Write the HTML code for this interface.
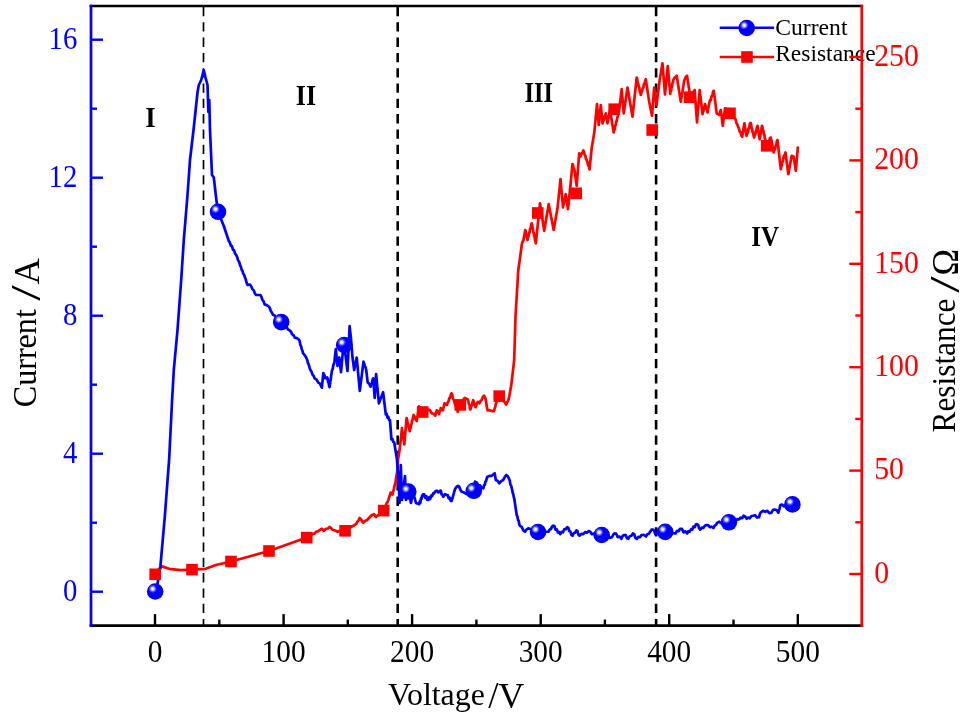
<!DOCTYPE html>
<html lang="en"><head><meta charset="utf-8"><title>Current and Resistance vs Voltage</title>
<style>html,body{margin:0;padding:0;background:#fff;}body{width:969px;height:720px;overflow:hidden;font-family:"Liberation Serif",serif;}svg{display:block;}</style>
</head><body>
<svg width="969" height="720" viewBox="0 0 969 720" font-family="'Liberation Serif', serif">
<defs><radialGradient id="hl" cx="0.5" cy="0.5" r="0.5"><stop offset="0" stop-color="#fff" stop-opacity="1"/><stop offset="0.3" stop-color="#fff" stop-opacity="0.9"/><stop offset="0.65" stop-color="#fff" stop-opacity="0.35"/><stop offset="1" stop-color="#fff" stop-opacity="0"/></radialGradient></defs>
<rect width="969" height="720" fill="#fff"/>
<line x1="203.5" y1="7.0" x2="203.5" y2="625.6" stroke="#000" stroke-width="1.7" stroke-dasharray="9.3 6"/>
<line x1="397.7" y1="7.0" x2="397.7" y2="625.6" stroke="#000" stroke-width="2.6" stroke-dasharray="9.3 6"/>
<line x1="656.1" y1="7.0" x2="656.1" y2="625.6" stroke="#000" stroke-width="2.6" stroke-dasharray="9.3 6"/>
<path d="M155.2,574.3 L158.0,570.0 L161.9,566.4 L169.2,568.8 L180.9,570.2 L192.0,569.6 L205.7,568.8 L215.9,565.0 L231.0,561.5 L269.0,551.0 L306.7,537.6 L308.6,536.2 L310.5,535.9 L312.4,533.9 L314.4,533.7 L316.3,531.6 L318.2,531.2 L320.1,529.7 L322.0,528.8 L323.9,530.8 L325.9,528.9 L327.8,528.5 L329.8,526.9 L332.7,529.8 L335.1,530.5 L337.6,531.8 L340.1,530.8 L342.6,531.6 L345.1,530.8 L347.2,529.0 L349.2,528.8 L351.2,526.6 L353.3,525.9 L356.3,523.9 L357.4,521.6 L358.5,520.5 L359.6,518.0 L361.4,519.8 L363.1,522.9 L365.1,520.8 L367.0,520.2 L369.0,518.0 L371.4,515.5 L373.9,514.1 L375.9,517.1 L377.8,515.2 L379.8,514.4 L381.8,511.7 L383.7,510.6 L384.7,508.0 L385.7,506.3 L386.6,503.2 L387.6,502.1 L388.6,499.4 L389.3,496.5 L389.9,495.4 L390.6,492.5 L392.5,494.5 L393.1,491.4 L393.7,490.1 L394.3,486.5 L394.9,484.9 L395.5,481.8 L397.5,470.0 L398.1,459.0 L399.6,449.8 L402.0,428.1 L404.3,444.4 L406.6,418.0 L407.1,419.7 L407.6,423.2 L408.1,423.9 L408.7,427.1 L409.2,428.7 L409.7,431.2 L410.2,428.8 L410.7,427.9 L411.2,424.6 L411.6,423.7 L412.1,420.7 L412.6,419.6 L413.1,416.6 L413.6,415.0 L414.6,416.6 L415.7,419.6 L416.7,421.1 L419.0,406.4 L420.3,407.8 L421.6,411.1 L422.9,412.3 L424.7,410.7 L426.5,411.2 L428.3,409.5 L430.0,410.3 L431.8,413.4 L433.5,413.5 L435.2,415.7 L436.0,412.7 L436.8,410.3 L438.0,411.5 L439.1,414.2 L439.6,411.4 L440.2,410.8 L440.7,408.0 L443.0,410.3 L443.5,407.4 L444.0,406.3 L444.5,403.3 L446.9,404.9 L447.7,402.6 L448.4,401.7 L449.2,398.5 L450.0,397.6 L450.7,395.0 L451.5,393.3 L452.3,394.9 L453.0,398.7 L453.8,400.2 L454.4,401.9 L455.1,404.8 L455.8,405.6 L456.4,408.3 L457.1,409.5 L457.7,411.9 L458.6,408.9 L459.4,408.0 L460.3,404.9 L461.4,402.9 L462.5,402.0 L463.6,399.4 L464.7,397.9 L467.8,399.5 L468.3,400.9 L468.8,403.9 L469.4,404.8 L469.9,408.3 L470.4,409.5 L471.1,406.7 L471.8,405.6 L472.5,402.1 L473.2,400.2 L474.0,402.3 L474.7,405.4 L475.5,407.2 L476.6,404.2 L477.8,401.8 L479.4,403.3 L480.5,401.0 L481.7,399.9 L482.9,396.9 L484.0,395.6 L485.6,398.7 L487.4,410.3 L489.6,410.2 L491.9,411.1 L494.1,411.1 L494.7,408.2 L495.2,407.3 L495.8,403.9 L496.4,402.6 L497.3,399.7 L498.3,398.7 L499.2,396.1 L500.6,397.2 L502.0,399.9 L503.4,401.0 L504.8,402.2 L506.1,404.6 L507.0,402.1 L507.9,401.2 L508.8,398.7 L511.1,386.3 L512.6,373.9 L514.2,360.0 L515.5,316.7 L518.3,270.0 L520.0,258.3 L521.7,245.0 L522.5,241.9 L523.3,240.8 L525.3,230.0 L525.7,230.8 L526.2,234.9 L526.6,235.2 L527.1,239.0 L527.5,240.0 L528.0,237.3 L528.5,236.5 L529.1,232.5 L529.6,232.5 L530.1,228.7 L530.7,227.9 L531.2,224.6 L531.7,223.3 L532.1,224.4 L532.5,227.7 L532.9,228.3 L533.3,232.3 L533.8,232.9 L534.2,236.3 L534.6,236.5 L535.0,240.3 L535.4,240.6 L535.8,243.3 L540.0,203.3 L544.2,230.8 L548.7,204.2 L553.7,230.0 L557.5,208.3 L560.5,179.2 L563.0,207.5 L563.5,204.3 L563.9,204.1 L564.4,200.4 L564.9,199.1 L565.3,195.4 L565.8,194.2 L568.0,209.2 L570.0,190.0 L572.5,164.0 L573.0,164.7 L573.6,168.5 L574.2,169.0 L574.7,171.7 L576.7,185.8 L579.2,153.3 L580.3,156.7 L581.3,153.7 L582.3,153.2 L583.3,150.5 L584.0,151.7 L584.7,155.0 L585.3,155.5 L586.0,159.0 L586.7,160.0 L587.4,161.7 L588.1,165.5 L588.8,166.0 L589.5,169.5 L591.7,148.0 L594.2,133.3 L597.0,104.2 L598.7,125.0 L600.8,105.0 L602.5,123.3 L603.2,120.9 L603.8,120.2 L604.5,116.2 L605.1,116.0 L605.8,113.3 L607.5,123.3 L610.0,110.0 L613.7,132.5 L614.2,129.9 L614.7,129.5 L615.2,125.8 L615.7,124.9 L616.2,121.5 L616.7,121.3 L617.2,117.7 L617.7,116.8 L618.2,113.4 L618.7,113.2 L619.2,110.0 L621.7,89.2 L623.7,113.3 L627.5,87.5 L632.5,116.7 L636.7,77.5 L637.2,78.9 L637.7,83.0 L638.2,83.5 L638.8,86.9 L639.3,87.5 L639.8,91.8 L640.3,92.0 L640.8,95.0 L641.4,92.4 L642.0,91.6 L642.7,88.2 L643.3,87.7 L643.9,84.0 L644.5,84.3 L645.2,80.6 L645.8,79.2 L649.2,101.7 L652.0,115.8 L654.2,87.5 L656.5,105.0 L659.6,80.8 L662.5,63.3 L665.0,94.5 L667.8,66.0 L670.2,94.0 L670.6,91.4 L671.1,91.1 L671.5,87.0 L672.0,87.1 L672.4,83.3 L672.9,82.5 L673.3,80.0 L675.0,77.2 L676.7,75.8 L680.8,101.7 L684.2,80.8 L685.6,77.2 L687.0,75.8 L690.0,95.0 L691.6,92.7 L693.1,92.4 L694.7,90.0 L697.0,122.5 L699.7,90.0 L702.5,114.2 L703.0,111.4 L703.5,111.0 L704.0,107.4 L704.5,107.4 L705.0,104.2 L705.6,105.7 L706.2,108.7 L706.9,109.2 L707.5,112.5 L709.2,103.3 L710.0,100.0 L710.7,100.4 L711.5,96.3 L712.3,96.2 L713.0,91.6 L713.8,90.8 L716.7,113.3 L719.2,115.0 L720.0,111.9 L720.8,110.0 L722.8,125.8 L725.0,108.3 L726.7,108.9 L728.3,112.8 L730.0,113.3 L731.7,114.0 L733.3,117.6 L735.0,118.5 L735.8,119.9 L736.5,123.3 L737.2,124.1 L738.0,126.7 L738.8,128.2 L739.7,131.6 L740.5,132.0 L741.4,135.8 L742.2,136.7 L744.4,123.3 L746.5,135.8 L747.2,133.2 L747.8,132.7 L748.5,128.3 L749.2,128.4 L749.8,123.8 L750.5,122.8 L751.0,123.7 L751.6,127.9 L752.1,128.7 L752.6,132.3 L753.1,132.8 L753.7,136.1 L754.2,137.5 L754.8,134.6 L755.3,134.5 L755.9,130.9 L756.4,130.9 L757.0,126.8 L757.5,125.8 L759.7,139.2 L762.0,125.8 L762.5,127.1 L762.9,130.4 L763.4,130.6 L763.9,134.6 L764.4,134.7 L764.8,138.5 L765.3,139.2 L765.8,142.7 L766.2,142.7 L766.7,145.8 L767.7,143.2 L768.8,142.8 L769.8,138.3 L770.8,137.5 L773.7,152.5 L774.3,149.3 L775.0,149.5 L775.6,145.9 L776.2,145.1 L776.9,140.9 L777.5,140.0 L780.8,169.2 L781.3,166.6 L781.8,165.5 L782.3,162.0 L782.8,161.3 L783.3,158.3 L784.0,155.6 L784.8,155.3 L785.5,152.5 L788.3,174.2 L791.7,155.8 L793.7,156.7 L795.8,170.8 L797.8,147.5" fill="none" stroke="#f00" stroke-width="2.7" stroke-linejoin="round" stroke-linecap="round"/>
<path d="M155.2,591.5 L157.5,584.0 L160.4,566.4 L164.8,516.8 L169.2,458.4 L172.1,400.0 L173.8,370.0 L177.5,330.0 L181.2,280.0 L183.8,240.0 L187.5,195.0 L190.0,160.0 L193.8,127.5 L197.5,92.5 L198.8,85.0 L201.2,80.0 L203.8,70.2 L205.5,77.5 L207.5,85.0 L208.0,100.0 L208.4,112.0 L209.3,100.0 L210.0,130.0 L212.0,175.0 L213.8,177.5 L215.5,192.5 L217.0,205.0 L218.0,211.8 L223.8,226.0 L228.8,241.0 L229.8,242.4 L230.9,245.7 L232.0,246.3 L233.0,249.8 L234.1,250.3 L235.2,253.8 L236.2,255.0 L237.2,257.2 L238.1,260.5 L239.1,261.7 L240.0,265.0 L240.8,266.5 L241.7,269.9 L242.5,270.9 L243.3,273.8 L244.2,275.0 L245.0,277.5 L245.8,279.5 L246.7,283.1 L247.5,285.0 L250.0,284.5 L251.2,286.4 L252.5,289.1 L253.8,290.4 L255.0,293.7 L256.2,295.0 L260.4,295.0 L261.4,296.7 L262.5,300.0 L263.6,301.4 L264.6,304.4 L266.7,305.1 L268.8,306.5 L269.8,308.0 L270.8,311.0 L271.9,312.5 L272.9,314.8 L274.6,315.5 L276.2,318.1 L277.9,318.8 L279.6,321.4 L281.2,322.1 L282.9,323.0 L284.6,325.8 L286.3,326.3 L287.9,329.3 L289.6,330.4 L290.9,331.6 L292.2,334.4 L293.5,335.1 L294.8,337.7 L296.9,338.1 L299.0,339.8 L299.7,341.3 L300.4,345.0 L301.1,346.1 L301.7,349.2 L302.4,350.7 L303.1,353.3 L304.7,355.1 L306.2,357.5 L307.1,359.7 L307.9,362.9 L308.7,364.4 L309.6,367.7 L310.4,370.0 L311.4,371.5 L312.5,374.6 L313.6,375.8 L314.6,378.3 L316.3,379.3 L318.1,382.3 L319.8,383.5 L321.9,387.7 L323.3,373.1 L324.4,375.2 L325.4,378.3 L327.1,377.3 L327.6,378.6 L328.1,382.0 L328.6,382.8 L329.1,386.1 L329.6,387.1 L331.7,372.1 L332.2,369.7 L332.8,368.8 L333.3,365.0 L333.9,364.1 L334.4,361.7 L335.8,349.2 L337.5,365.8 L337.9,362.9 L338.4,362.2 L338.8,358.9 L339.2,357.5 L341.0,372.1 L342.7,353.3 L344.2,345.0 L347.5,371.0 L349.6,326.2 L351.0,338.8 L352.5,357.5 L354.2,370.0 L356.7,357.5 L359.8,390.8 L363.5,361.7 L364.2,363.5 L364.9,366.2 L365.6,367.5 L366.2,370.0 L367.7,382.5 L369.1,383.6 L370.6,386.7 L371.3,384.2 L372.0,383.3 L372.6,379.4 L373.3,378.3 L374.7,397.8 L376.1,374.2 L378.9,403.3 L383.1,392.2 L385.8,414.4 L386.6,413.8 L387.5,417.6 L388.3,416.8 L389.2,420.1 L390.0,420.0 L391.4,439.4 L392.3,438.8 L393.3,441.9 L394.2,442.2 L396.9,458.9 L398.9,486.7 L399.5,503.0 L400.8,465.0 L402.0,500.0 L405.0,476.0 L406.0,500.0 L408.3,491.5 L411.0,503.0 L413.0,492.0 L416.0,503.0 L419.2,504.2 L419.8,501.4 L420.4,502.8 L421.0,498.4 L421.5,499.0 L422.1,495.4 L422.7,496.2 L423.3,494.2 L424.3,494.4 L425.3,497.8 L426.3,496.1 L427.3,499.8 L428.3,500.0 L429.3,497.2 L430.2,498.8 L431.2,495.6 L432.1,496.1 L433.1,493.4 L434.0,493.5 L435.0,491.7 L436.7,490.7 L438.3,492.4 L440.0,490.8 L440.8,490.6 L441.6,494.5 L442.5,494.7 L443.3,496.7 L445.0,494.2 L446.7,495.0 L447.7,495.0 L448.7,498.3 L449.7,497.7 L450.7,500.9 L451.7,500.8 L455.0,489.2 L456.6,486.7 L458.3,485.8 L459.4,487.2 L460.6,490.3 L461.7,491.7 L464.2,492.6 L466.7,494.2 L469.1,492.2 L471.4,492.2 L473.8,490.8 L475.0,481.7 L476.7,482.4 L478.3,485.1 L480.0,485.3 L481.6,487.7 L483.3,488.3 L484.0,485.5 L484.7,485.1 L485.4,481.7 L486.1,480.9 L486.8,478.1 L487.5,476.7 L489.6,475.9 L491.7,475.8 L494.7,473.3 L495.8,480.0 L497.5,480.8 L499.2,483.3 L501.2,481.2 L503.3,480.0 L504.8,476.9 L506.3,475.0 L507.8,476.2 L509.2,479.2 L509.8,480.7 L510.4,484.6 L511.1,485.5 L511.7,488.3 L512.2,489.7 L512.7,493.0 L513.2,493.7 L513.7,496.8 L514.2,498.3 L516.7,515.0 L517.4,516.6 L518.0,519.7 L518.7,521.0 L519.3,524.5 L520.0,525.8 L521.7,526.9 L523.3,530.4 L525.0,531.7 L526.6,529.4 L528.3,528.3 L538.0,532.0 L548.5,531.7 L549.7,529.6 L550.9,529.1 L552.0,526.6 L553.2,525.7 L554.4,526.1 L555.5,529.6 L556.7,529.3 L557.9,532.4 L559.0,531.8 L560.2,534.2 L561.6,531.9 L563.0,532.3 L564.4,529.0 L565.8,529.3 L567.2,527.2 L568.3,527.9 L569.4,531.2 L570.4,531.5 L571.5,535.0 L572.6,535.7 L573.9,533.0 L575.1,532.7 L576.4,530.3 L577.4,530.9 L578.5,534.8 L579.5,535.7 L581.4,533.9 L583.2,534.2 L585.1,532.1 L586.9,532.6 L588.8,531.1 L590.3,531.7 L591.9,534.2 L593.9,533.6 L595.8,535.6 L597.8,533.8 L599.7,535.9 L601.7,535.0 L603.8,534.8 L605.8,536.8 L607.9,535.4 L609.9,537.9 L612.0,537.3 L613.2,534.7 L614.4,533.4 L616.1,533.7 L617.8,537.2 L619.6,536.5 L621.3,538.8 L622.8,535.7 L624.4,535.0 L625.7,535.1 L627.0,538.3 L628.3,538.8 L629.8,536.2 L631.4,535.7 L632.9,533.4 L634.2,534.1 L635.5,538.1 L636.8,538.8 L638.4,536.8 L639.9,537.2 L641.5,535.0 L643.8,534.8 L646.1,536.5 L647.4,534.0 L648.7,533.9 L650.0,531.9 L651.5,529.7 L653.1,529.5 L654.2,531.0 L655.4,534.2 L665.2,531.9 L675.5,533.5 L677.0,530.9 L678.6,531.2 L680.1,528.8 L681.9,528.9 L683.6,532.3 L685.4,531.3 L687.1,533.5 L688.4,531.2 L689.6,531.6 L690.9,529.4 L692.2,529.7 L693.4,526.6 L694.7,527.2 L695.9,524.3 L697.2,524.2 L698.2,525.0 L699.2,528.3 L700.2,529.6 L701.8,527.6 L703.3,527.9 L704.9,525.7 L706.4,525.0 L708.1,525.2 L709.9,527.2 L711.6,526.7 L713.4,528.0 L714.7,525.6 L716.0,524.9 L717.3,522.6 L719.2,521.7 L721.2,523.3 L723.1,521.4 L725.0,523.4 L727.0,521.7 L728.9,522.3 L730.6,520.5 L732.3,521.8 L734.0,520.1 L735.6,521.1 L737.3,519.1 L739.0,519.5 L740.5,517.7 L742.1,518.2 L743.6,515.7 L745.2,516.5 L746.7,518.8 L748.2,517.6 L749.8,518.3 L751.4,516.0 L752.9,515.7 L755.0,515.2 L757.0,517.5 L759.1,517.2 L759.9,513.9 L760.6,512.6 L763.0,510.8 L765.3,511.8 L767.4,510.8 L769.4,513.2 L771.5,512.6 L773.0,509.8 L774.6,509.5 L776.5,510.0 L778.4,512.6 L779.0,509.9 L779.5,509.3 L780.1,505.7 L780.7,504.8 L782.2,504.6 L783.8,506.4 L792.4,504.4" fill="none" stroke="#00f" stroke-width="2.7" stroke-linejoin="round" stroke-linecap="round"/>
<rect x="149.4" y="568.5" width="11.6" height="11.6" fill="#f00"/>
<rect x="186.2" y="563.8" width="11.6" height="11.6" fill="#f00"/>
<rect x="225.2" y="555.7" width="11.6" height="11.6" fill="#f00"/>
<rect x="263.2" y="545.2" width="11.6" height="11.6" fill="#f00"/>
<rect x="300.9" y="531.8" width="11.6" height="11.6" fill="#f00"/>
<rect x="339.3" y="525.0" width="11.6" height="11.6" fill="#f00"/>
<rect x="377.9" y="504.8" width="11.6" height="11.6" fill="#f00"/>
<rect x="416.9" y="406.2" width="11.6" height="11.6" fill="#f00"/>
<rect x="454.5" y="399.1" width="11.6" height="11.6" fill="#f00"/>
<rect x="493.4" y="390.3" width="11.6" height="11.6" fill="#f00"/>
<rect x="532.0" y="207.2" width="11.6" height="11.6" fill="#f00"/>
<rect x="570.4" y="187.5" width="11.6" height="11.6" fill="#f00"/>
<rect x="608.4" y="103.4" width="11.6" height="11.6" fill="#f00"/>
<rect x="646.4" y="124.2" width="11.6" height="11.6" fill="#f00"/>
<rect x="683.7" y="91.4" width="11.6" height="11.6" fill="#f00"/>
<rect x="724.2" y="107.5" width="11.6" height="11.6" fill="#f00"/>
<rect x="760.9" y="140.0" width="11.6" height="11.6" fill="#f00"/>
<circle cx="155.2" cy="591.5" r="8.3" fill="#00f"/><circle cx="152.7" cy="588.8" r="4.3" fill="url(#hl)"/>
<circle cx="218.0" cy="211.8" r="8.3" fill="#00f"/><circle cx="215.5" cy="209.1" r="4.3" fill="url(#hl)"/>
<circle cx="281.2" cy="322.1" r="8.3" fill="#00f"/><circle cx="278.8" cy="319.4" r="4.3" fill="url(#hl)"/>
<circle cx="344.2" cy="345.0" r="8.3" fill="#00f"/><circle cx="341.7" cy="342.3" r="4.3" fill="url(#hl)"/>
<circle cx="408.3" cy="491.5" r="8.3" fill="#00f"/><circle cx="405.8" cy="488.8" r="4.3" fill="url(#hl)"/>
<circle cx="473.8" cy="490.8" r="8.3" fill="#00f"/><circle cx="471.3" cy="488.1" r="4.3" fill="url(#hl)"/>
<circle cx="538.0" cy="532.0" r="8.3" fill="#00f"/><circle cx="535.5" cy="529.3" r="4.3" fill="url(#hl)"/>
<circle cx="601.7" cy="535.0" r="8.3" fill="#00f"/><circle cx="599.2" cy="532.3" r="4.3" fill="url(#hl)"/>
<circle cx="665.2" cy="531.9" r="8.3" fill="#00f"/><circle cx="662.7" cy="529.2" r="4.3" fill="url(#hl)"/>
<circle cx="728.9" cy="522.3" r="8.3" fill="#00f"/><circle cx="726.4" cy="519.6" r="4.3" fill="url(#hl)"/>
<circle cx="792.4" cy="504.4" r="8.3" fill="#00f"/><circle cx="789.9" cy="501.7" r="4.3" fill="url(#hl)"/>
<text x="775.2" y="35.4" font-size="24" textLength="72.3" lengthAdjust="spacingAndGlyphs" fill="#000">Current</text>
<text x="775.2" y="61.4" font-size="24" textLength="100.5" lengthAdjust="spacingAndGlyphs" fill="#000">Resistance</text>
<line x1="89.65" y1="6.0" x2="863.15" y2="6.0" stroke="#000" stroke-width="2.7"/>
<line x1="89.65" y1="625.6" x2="863.15" y2="625.6" stroke="#000" stroke-width="2.7"/>
<line x1="155.0" y1="625.6" x2="155.0" y2="614.1" stroke="#000" stroke-width="2.4"/>
<text transform="translate(155.0,661.9) scale(0.96,1)" font-size="30.6" text-anchor="middle" fill="#000">0</text>
<line x1="219.3" y1="625.6" x2="219.3" y2="619.6" stroke="#000" stroke-width="2.4"/>
<line x1="283.6" y1="625.6" x2="283.6" y2="614.1" stroke="#000" stroke-width="2.4"/>
<text transform="translate(283.6,661.9) scale(0.96,1)" font-size="30.6" text-anchor="middle" fill="#000">100</text>
<line x1="347.8" y1="625.6" x2="347.8" y2="619.6" stroke="#000" stroke-width="2.4"/>
<line x1="412.1" y1="625.6" x2="412.1" y2="614.1" stroke="#000" stroke-width="2.4"/>
<text transform="translate(412.1,661.9) scale(0.96,1)" font-size="30.6" text-anchor="middle" fill="#000">200</text>
<line x1="476.4" y1="625.6" x2="476.4" y2="619.6" stroke="#000" stroke-width="2.4"/>
<line x1="540.7" y1="625.6" x2="540.7" y2="614.1" stroke="#000" stroke-width="2.4"/>
<text transform="translate(540.7,661.9) scale(0.96,1)" font-size="30.6" text-anchor="middle" fill="#000">300</text>
<line x1="604.9" y1="625.6" x2="604.9" y2="619.6" stroke="#000" stroke-width="2.4"/>
<line x1="669.2" y1="625.6" x2="669.2" y2="614.1" stroke="#000" stroke-width="2.4"/>
<text transform="translate(669.2,661.9) scale(0.96,1)" font-size="30.6" text-anchor="middle" fill="#000">400</text>
<line x1="733.5" y1="625.6" x2="733.5" y2="619.6" stroke="#000" stroke-width="2.4"/>
<line x1="797.8" y1="625.6" x2="797.8" y2="614.1" stroke="#000" stroke-width="2.4"/>
<text transform="translate(797.8,661.9) scale(0.96,1)" font-size="30.6" text-anchor="middle" fill="#000">500</text>
<line x1="91.0" y1="4.65" x2="91.0" y2="626.95" stroke="#00f" stroke-width="2.7"/>
<line x1="91.0" y1="591.7" x2="103.0" y2="591.7" stroke="#00f" stroke-width="2.4"/>
<text transform="translate(77.3,601.0) scale(0.94,1)" font-size="30.6" text-anchor="end" fill="#00f">0</text>
<line x1="91.0" y1="522.7" x2="97.0" y2="522.7" stroke="#00f" stroke-width="2.4"/>
<line x1="91.0" y1="453.7" x2="103.0" y2="453.7" stroke="#00f" stroke-width="2.4"/>
<text transform="translate(77.3,463.0) scale(0.94,1)" font-size="30.6" text-anchor="end" fill="#00f">4</text>
<line x1="91.0" y1="384.7" x2="97.0" y2="384.7" stroke="#00f" stroke-width="2.4"/>
<line x1="91.0" y1="315.7" x2="103.0" y2="315.7" stroke="#00f" stroke-width="2.4"/>
<text transform="translate(77.3,325.0) scale(0.94,1)" font-size="30.6" text-anchor="end" fill="#00f">8</text>
<line x1="91.0" y1="246.7" x2="97.0" y2="246.7" stroke="#00f" stroke-width="2.4"/>
<line x1="91.0" y1="177.7" x2="103.0" y2="177.7" stroke="#00f" stroke-width="2.4"/>
<text transform="translate(77.3,187.0) scale(0.94,1)" font-size="30.6" text-anchor="end" fill="#00f">12</text>
<line x1="91.0" y1="108.7" x2="97.0" y2="108.7" stroke="#00f" stroke-width="2.4"/>
<line x1="91.0" y1="39.7" x2="103.0" y2="39.7" stroke="#00f" stroke-width="2.4"/>
<text transform="translate(77.3,49.0) scale(0.94,1)" font-size="30.6" text-anchor="end" fill="#00f">16</text>
<line x1="861.8" y1="4.65" x2="861.8" y2="626.95" stroke="#f00" stroke-width="2.7"/>
<line x1="861.8" y1="574.0" x2="849.3" y2="574.0" stroke="#f00" stroke-width="2.4"/>
<text transform="translate(874.2,582.7) scale(0.975,1)" font-size="30.6" fill="#f00">0</text>
<line x1="861.8" y1="522.3" x2="855.3" y2="522.3" stroke="#f00" stroke-width="2.4"/>
<line x1="861.8" y1="470.6" x2="849.3" y2="470.6" stroke="#f00" stroke-width="2.4"/>
<text transform="translate(874.2,479.3) scale(0.975,1)" font-size="30.6" fill="#f00">50</text>
<line x1="861.8" y1="418.9" x2="855.3" y2="418.9" stroke="#f00" stroke-width="2.4"/>
<line x1="861.8" y1="367.2" x2="849.3" y2="367.2" stroke="#f00" stroke-width="2.4"/>
<text transform="translate(874.2,375.9) scale(0.975,1)" font-size="30.6" fill="#f00">100</text>
<line x1="861.8" y1="315.5" x2="855.3" y2="315.5" stroke="#f00" stroke-width="2.4"/>
<line x1="861.8" y1="263.8" x2="849.3" y2="263.8" stroke="#f00" stroke-width="2.4"/>
<text transform="translate(874.2,272.5) scale(0.975,1)" font-size="30.6" fill="#f00">150</text>
<line x1="861.8" y1="212.1" x2="855.3" y2="212.1" stroke="#f00" stroke-width="2.4"/>
<line x1="861.8" y1="160.4" x2="849.3" y2="160.4" stroke="#f00" stroke-width="2.4"/>
<text transform="translate(874.2,169.1) scale(0.975,1)" font-size="30.6" fill="#f00">200</text>
<line x1="861.8" y1="108.7" x2="855.3" y2="108.7" stroke="#f00" stroke-width="2.4"/>
<line x1="861.8" y1="57.0" x2="849.3" y2="57.0" stroke="#f00" stroke-width="2.4"/>
<text transform="translate(874.2,65.7) scale(0.975,1)" font-size="30.6" fill="#f00">250</text>
<text transform="translate(36.3,407.2) rotate(-90)" font-size="33.5" textLength="98" lengthAdjust="spacingAndGlyphs" fill="#000">Current</text>
<text transform="translate(39.9,300.8) rotate(-90)" font-size="42" textLength="15.4" lengthAdjust="spacingAndGlyphs" fill="#000">/</text>
<text transform="translate(38.9,284.4) rotate(-90)" font-size="36.5" fill="#000">A</text>
<text transform="translate(954.5,432.5) rotate(-90)" font-size="33.5" textLength="134" lengthAdjust="spacingAndGlyphs" fill="#000">Resistance</text>
<text transform="translate(959,292.7) rotate(-90)" font-size="43" textLength="16.4" lengthAdjust="spacingAndGlyphs" fill="#000">/</text>
<text transform="translate(957.5,275.6) rotate(-90)" font-size="38" textLength="26.6" lengthAdjust="spacingAndGlyphs" fill="#000">Ω</text>
<text x="388" y="704.8" font-size="30.5" textLength="96.9" lengthAdjust="spacingAndGlyphs" fill="#000">Voltage</text>
<text x="488.3" y="708.2" font-size="37" fill="#000">/</text>
<text x="498.2" y="708" font-size="36" fill="#000">V</text>
<text x="145.2" y="127.4" font-size="29.5" font-weight="bold" textLength="10.4" lengthAdjust="spacingAndGlyphs" fill="#000">I</text>
<text x="295.8" y="104.7" font-size="29.5" font-weight="bold" textLength="20.2" lengthAdjust="spacingAndGlyphs" fill="#000">II</text>
<text x="524.5" y="101.6" font-size="29.5" font-weight="bold" textLength="28.5" lengthAdjust="spacingAndGlyphs" fill="#000">III</text>
<text x="751.3" y="246.2" font-size="29.5" font-weight="bold" textLength="27.8" lengthAdjust="spacingAndGlyphs" fill="#000">IV</text>
<line x1="719.7" y1="27.8" x2="774.1" y2="27.8" stroke="#00f" stroke-width="2.5"/>
<circle cx="746.7" cy="28" r="8.3" fill="#00f"/><circle cx="744.2" cy="25.3" r="4.3" fill="url(#hl)"/>
<line x1="719.7" y1="57" x2="774.1" y2="57" stroke="#f00" stroke-width="2.5"/>
<rect x="741.2" y="51.2" width="11.6" height="11.6" fill="#f00"/>
</svg>
</body></html>
